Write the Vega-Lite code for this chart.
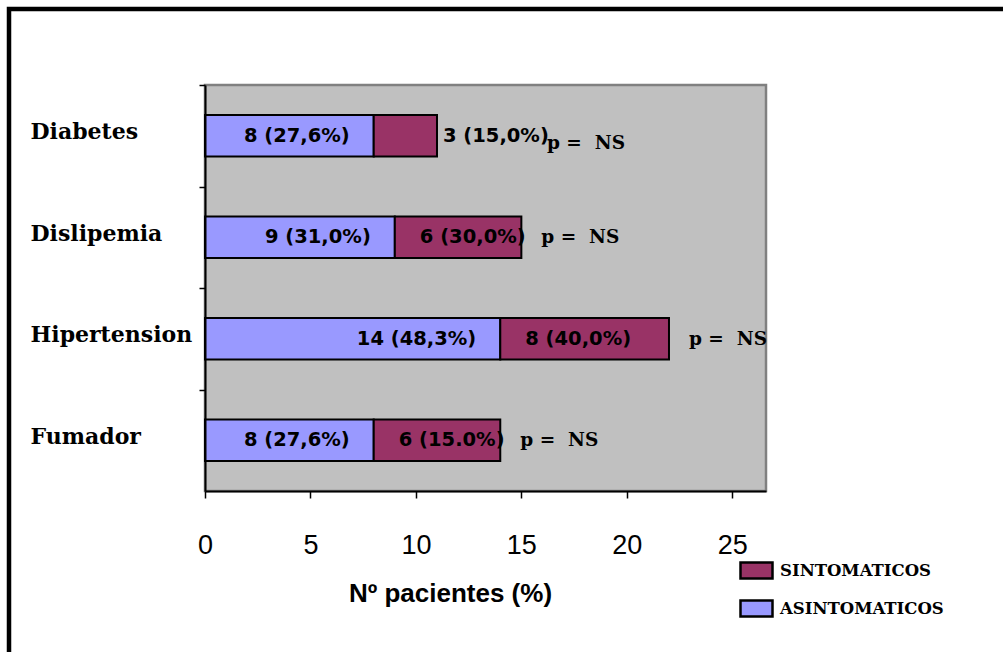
{
  "$schema": "https://vega.github.io/schema/vega-lite/v6.json",
  "width": 1000,
  "height": 650,
  "autosize": {"type": "none"},
  "padding": {"left": 9, "top": 9, "right": -6, "bottom": -7},
  "background": "white",
  "config": {
    "view": {"stroke": "black", "strokeWidth": 4.5, "fill": "white"},
    "axis": {"grid": false}
  },
  "data": {
    "values": [
      {"factor": "Diabetes", "grupo": "ASINTOMATICOS", "n": 8, "etiqueta": "8 (27,6%)", "p": "p =\u00a0\u00a0NS"},
      {"factor": "Diabetes", "grupo": "SINTOMATICOS", "n": 3, "etiqueta": "3 (15,0%)", "p": "p =\u00a0\u00a0NS"},
      {"factor": "Dislipemia", "grupo": "ASINTOMATICOS", "n": 9, "etiqueta": "9 (31,0%)", "p": "p =\u00a0\u00a0NS"},
      {"factor": "Dislipemia", "grupo": "SINTOMATICOS", "n": 6, "etiqueta": "6 (30,0%)", "p": "p =\u00a0\u00a0NS"},
      {"factor": "Hipertension", "grupo": "ASINTOMATICOS", "n": 14, "etiqueta": "14 (48,3%)", "p": "p =\u00a0\u00a0NS"},
      {"factor": "Hipertension", "grupo": "SINTOMATICOS", "n": 8, "etiqueta": "8 (40,0%)", "p": "p =\u00a0\u00a0NS"},
      {"factor": "Fumador", "grupo": "ASINTOMATICOS", "n": 8, "etiqueta": "8 (27,6%)", "p": "p =\u00a0\u00a0NS"},
      {"factor": "Fumador", "grupo": "SINTOMATICOS", "n": 6, "etiqueta": "6 (15.0%)", "p": "p =\u00a0\u00a0NS"}
    ]
  },
  "resolve": {"scale": {"y": "independent"}},
  "layer": [
    {
      "data": {"values": [{}]},
      "mark": {"type": "rect", "fill": "#C0C0C0", "stroke": "#808080", "strokeWidth": 2.5},
      "encoding": {
        "x": {"datum": 0, "type": "quantitative", "scale": {"domain": [0, 26.6], "range": [196, 757], "nice": false, "zero": true}, "title": "Nº pacientes (%)"},
        "x2": {"datum": 26.6},
        "y": {"datum": 0, "type": "quantitative", "scale": {"domain": [0, 1], "range": [482, 76], "nice": false}, "axis": null},
        "y2": {"datum": 1}
      }
    },
    {
      "transform": [
        {"stack": "n", "groupby": ["factor"], "sort": [{"field": "grupo", "order": "ascending"}], "as": ["x0", "x1"]}
      ],
      "encoding": {
        "y": {
          "field": "factor",
          "type": "nominal",
          "sort": ["Diabetes", "Dislipemia", "Hipertension", "Fumador"],
          "scale": {"domain": ["Diabetes", "Dislipemia", "Hipertension", "Fumador"], "range": [76, 482], "paddingInner": 0.59, "paddingOuter": 0.295},
          "axis": {
            "orient": "left",
            "offset": -196,
            "zindex": 1,
            "title": null,
            "domainColor": "black",
            "domainWidth": 2,
            "tickColor": "black",
            "tickWidth": 1.5,
            "tickSize": 6,
            "tickOffset": -50.75,
            "labelAlign": "left",
            "labelBaseline": "middle",
            "labelPadding": 169,
            "labelOffset": 46.5,
            "labelFont": "DejaVu Serif",
            "labelFontWeight": "bold",
            "labelFontSize": 22,
            "labelColor": "black",
            "labelLimit": 300
          }
        }
      },
      "layer": [
        {
          "mark": {"type": "bar", "stroke": "black", "strokeWidth": 2},
          "encoding": {
            "x": {
              "field": "x0",
              "type": "quantitative",
              "title": "Nº pacientes (%)",
              "scale": {"domain": [0, 26.6], "range": [196, 757], "nice": false, "zero": true},
              "axis": {
                "orient": "bottom",
                "offset": -168,
                "zindex": 1,
                "values": [0, 5, 10, 15, 20, 25],
                "labelFlush": false,
                "domainColor": "black",
                "domainWidth": 2,
                "tickColor": "black",
                "tickWidth": 1.5,
                "tickSize": 7,
                "labelFont": "Liberation Sans",
                "labelFontSize": 27,
                "labelColor": "black",
                "labelPadding": 34,
                "titleFont": "Liberation Sans",
                "titleFontSize": 26,
                "titleFontWeight": "bold",
                "titleColor": "black",
                "titleAnchor": null,
                "titleAlign": "center",
                "titleBaseline": "alphabetic",
                "titleX": 441,
                "titleY": 110
              }
            },
            "x2": {"field": "x1"},
            "color": {
              "field": "grupo",
              "type": "nominal",
              "scale": {"domain": ["SINTOMATICOS", "ASINTOMATICOS"], "range": ["#993366", "#9999FF"]},
              "legend": {
                "orient": "none",
                "legendX": 730,
                "legendY": 544,
                "title": null,
                "padding": 0,
                "symbolType": "M-1,-0.5H1V0.5H-1Z",
                "symbolSize": 1024,
                "symbolStrokeColor": "black",
                "symbolStrokeWidth": 2.5,
                "symbolOpacity": 1,
                "rowPadding": 7,
                "labelOffset": 6,
                "labelLimit": 300,
                "labelFont": "DejaVu Serif",
                "labelFontWeight": "bold",
                "labelFontSize": 16.5,
                "labelColor": "black"
              }
            }
          }
        },
        {
          "transform": [{"filter": "datum.grupo === 'ASINTOMATICOS'"}],
          "mark": {"type": "text", "align": "right", "baseline": "middle", "dx": -24, "font": "DejaVu Sans", "fontWeight": "bold", "fontSize": 19.5, "fill": "black"},
          "encoding": {
            "x": {"field": "x1", "type": "quantitative", "title": "Nº pacientes (%)"},
            "text": {"field": "etiqueta"}
          }
        },
        {
          "transform": [{"filter": "datum.grupo === 'SINTOMATICOS' && datum.n >= 4"}],
          "mark": {"type": "text", "align": "left", "baseline": "middle", "dx": 25, "font": "DejaVu Sans", "fontWeight": "bold", "fontSize": 19.5, "fill": "black"},
          "encoding": {
            "x": {"field": "x0", "type": "quantitative", "title": "Nº pacientes (%)"},
            "text": {"field": "etiqueta"}
          }
        },
        {
          "transform": [{"filter": "datum.grupo === 'SINTOMATICOS' && datum.n < 4"}],
          "mark": {"type": "text", "align": "left", "baseline": "middle", "dx": 6, "font": "DejaVu Sans", "fontWeight": "bold", "fontSize": 19.5, "fill": "black"},
          "encoding": {
            "x": {"field": "x1", "type": "quantitative", "title": "Nº pacientes (%)"},
            "text": {"field": "etiqueta"}
          }
        },
        {
          "transform": [{"filter": "datum.grupo === 'SINTOMATICOS' && datum.n >= 4"}],
          "mark": {"type": "text", "align": "left", "baseline": "middle", "dx": 20, "font": "DejaVu Serif", "fontWeight": "bold", "fontSize": 18.5, "fill": "black"},
          "encoding": {
            "x": {"field": "x1", "type": "quantitative", "title": "Nº pacientes (%)"},
            "text": {"field": "p"}
          }
        },
        {
          "transform": [{"filter": "datum.grupo === 'SINTOMATICOS' && datum.n < 4"}],
          "mark": {"type": "text", "align": "left", "baseline": "middle", "dx": 110, "dy": 7, "font": "DejaVu Serif", "fontWeight": "bold", "fontSize": 18.5, "fill": "black"},
          "encoding": {
            "x": {"field": "x1", "type": "quantitative", "title": "Nº pacientes (%)"},
            "text": {"field": "p"}
          }
        }
      ]
    }
  ]
}
